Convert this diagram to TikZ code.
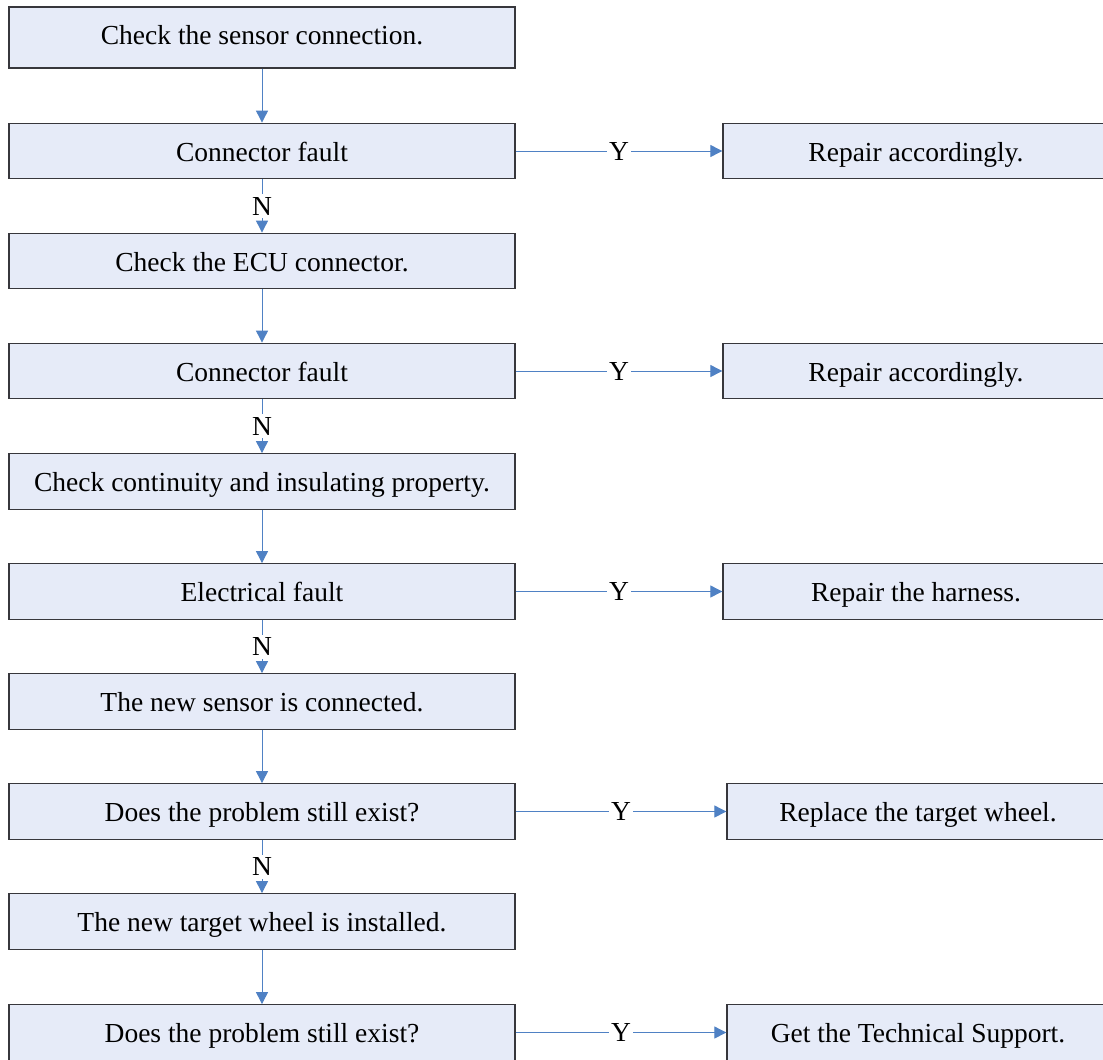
\documentclass[tikz,border=0pt]{standalone}
\usepackage{fontspec}
\setmainfont{Liberation Serif}
\usetikzlibrary{arrows.meta}
\definecolor{boxfill}{RGB}{230,235,248}
\definecolor{boxline}{RGB}{55,55,60}
\definecolor{flowblue}{RGB}{79,129,196}
\tikzset{
  stepbox/.style={draw=boxline, line width=1.3pt, fill=boxfill, rectangle,
    minimum height=55.5pt, inner sep=0pt, text height=20pt, text depth=0pt,
    font=\fontsize{27.5}{33}\selectfont},
  leftbox/.style={stepbox, minimum width=506pt},
  flow/.style={draw=flowblue, line width=0.9pt, -{Triangle[length=12pt,width=12pt]}},
  lbl/.style={fill=white, inner sep=2pt, font=\fontsize{27.5}{33}\selectfont, text height=19pt, text depth=1pt}
}
\begin{document}
\begin{tikzpicture}[x=1pt,y=-1pt]
\clip (0,0) rectangle (1103,1060);
\fill[white] (0,0) rectangle (1103,1060);
% left column
\node[leftbox, minimum height=61pt, text height=19pt, text depth=6pt] (b1) at (262,37.5) {Check the sensor connection.};
\node[leftbox] (b2) at (262,151) {Connector fault};
\node[leftbox] (b3) at (262,261) {Check the ECU connector.};
\node[leftbox] (b4) at (262,371) {Connector fault};
\node[leftbox] (b5) at (262,481.5) {Check continuity and insulating property.};
\node[leftbox] (b6) at (262,591.5) {Electrical fault};
\node[leftbox] (b7) at (262,701.5) {The new sensor is connected.};
\node[leftbox] (b8) at (262,811.5) {Does the problem still exist?};
\node[leftbox] (b9) at (262,921.5) {The new target wheel is installed.};
\node[leftbox] (b10) at (262,1032.5) {Does the problem still exist?};
% right column
\node[stepbox, minimum width=386pt] (r2) at (916,151) {Repair accordingly.};
\node[stepbox, minimum width=386pt] (r4) at (916,371) {Repair accordingly.};
\node[stepbox, minimum width=386pt] (r6) at (916,591.5) {Repair the harness.};
\node[stepbox, minimum width=382pt] (r8) at (918,811.5) {Replace the target wheel.};
\node[stepbox, minimum width=382pt] (r10) at (918,1032.5) {Get the Technical Support.};
% vertical connectors
\draw[flow] (b1) -- (b2);
\draw[flow] (b2) -- node[lbl] {N} (b3);
\draw[flow] (b3) -- (b4);
\draw[flow] (b4) -- node[lbl] {N} (b5);
\draw[flow] (b5) -- (b6);
\draw[flow] (b6) -- node[lbl] {N} (b7);
\draw[flow] (b7) -- (b8);
\draw[flow] (b8) -- node[lbl] {N} (b9);
\draw[flow] (b9) -- (b10);
% Y connectors
\draw[flow] (b2) -- node[lbl] {Y} (r2);
\draw[flow] (b4) -- node[lbl] {Y} (r4);
\draw[flow] (b6) -- node[lbl] {Y} (r6);
\draw[flow] (b8) -- node[lbl] {Y} (r8);
\draw[flow] (b10) -- node[lbl] {Y} (r10);
\end{tikzpicture}
\end{document}
